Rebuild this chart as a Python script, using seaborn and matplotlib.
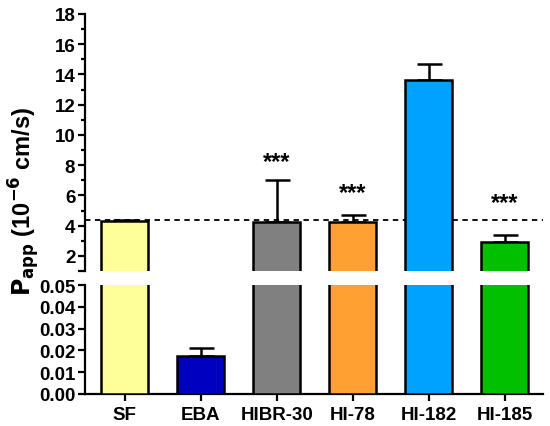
import matplotlib
matplotlib.use("Agg")
import numpy as np
import pandas as pd
import matplotlib.pyplot as plt
import seaborn as sns

# Data (Papp, 10^-6 cm/s)
categories = ["SF", "EBA", "HIBR-30", "HI-78", "HI-182", "HI-185"]
means = [4.28, 0.0175, 4.22, 4.25, 13.65, 2.93]
upper_err = [0.07, 0.0035, 2.8, 0.45, 1.05, 0.45]
colors = ["#FFFF99", "#0000C0", "#808080", "#FFA033", "#00A2FF", "#00C000"]
sf_reference = 4.34
star_labels = ["", "", "***", "***", "", "***"]
star_heights = [0, 0, 7.5, 5.4, 0, 4.8]

top_yticks = [1, 2, 4, 6, 8, 10, 12, 14, 16, 18]
top_yticklabels = ["", "2", "4", "6", "8", "10", "12", "14", "16", "18"]
bottom_yticks = [0.00, 0.01, 0.02, 0.03, 0.04, 0.05]

df = pd.DataFrame({"group": categories, "papp": means})

sns.set_style("ticks")
plt.rcParams["font.family"] = ["Liberation Sans", "DejaVu Sans"]
plt.rcParams["font.weight"] = "bold"
plt.rcParams["text.color"] = "black"
plt.rcParams["xtick.color"] = "black"
plt.rcParams["ytick.color"] = "black"
plt.rcParams["axes.edgecolor"] = "black"
plt.rcParams["axes.linewidth"] = 1.6
plt.rcParams["xtick.major.width"] = 1.6
plt.rcParams["ytick.major.width"] = 1.6
plt.rcParams["ytick.minor.width"] = 1.6

fig = plt.figure(figsize=(5.5, 4.27), dpi=100)
ax_top = fig.add_axes([0.1545, 0.363, 0.8325, 0.602])
ax_bot = fig.add_axes([0.1545, 0.075, 0.8325, 0.255])

for ax in (ax_top, ax_bot):
    sns.barplot(data=df, x="group", y="papp", hue="group", palette=colors,
                order=categories, errorbar=None, width=0.62, legend=False,
                saturation=1, edgecolor="black", linewidth=1.8, ax=ax, zorder=3)
    xs = np.arange(len(categories))
    ax.errorbar(xs, means, yerr=[np.zeros(len(means)), upper_err], fmt="none",
                ecolor="black", elinewidth=1.8, capsize=9, capthick=1.8, zorder=2)
    ax.set_xlim(-0.52, 5.5)
    ax.set_xlabel("")
    ax.set_ylabel("")
    sns.despine(ax=ax)

# top panel
ax_top.set_ylim(1, 18)
ax_top.set_yticks(top_yticks)
ax_top.set_yticklabels(top_yticklabels)
ax_top.set_yticks(np.arange(3, 18, 2), minor=True)
ax_top.tick_params(axis="y", which="major", length=5, labelsize=13.5, pad=2)
ax_top.tick_params(axis="y", which="minor", length=3)
ax_top.spines["bottom"].set_visible(False)
ax_top.tick_params(axis="x", bottom=False, labelbottom=False)
ax_top.axhline(sf_reference, color="black", linestyle=(0, (3, 2.5)), linewidth=1.3, zorder=1)
for i, lab in enumerate(star_labels):
    if lab:
        ax_top.text(i, star_heights[i], lab, ha="center", va="bottom",
                    fontsize=17, fontweight="bold")

# bottom panel
ax_bot.set_ylim(0, 0.05)
ax_bot.set_yticks(bottom_yticks)
ax_bot.set_yticklabels([f"{v:.2f}" for v in bottom_yticks])
ax_bot.tick_params(axis="y", length=5, labelsize=13.5, pad=2)
ax_bot.tick_params(axis="x", length=5, labelsize=13.5)
for t in ax_bot.get_xticklabels() + ax_bot.get_yticklabels() + ax_top.get_yticklabels():
    t.set_fontweight("bold")

fig.text(0.043, 0.528, r"$\mathbf{P_{app}}$ (10$^{\mathbf{-6}}$ cm/s)", rotation=90,
         ha="center", va="center", fontsize=17, fontweight="bold")

fig.savefig("out.png", dpi=100)
